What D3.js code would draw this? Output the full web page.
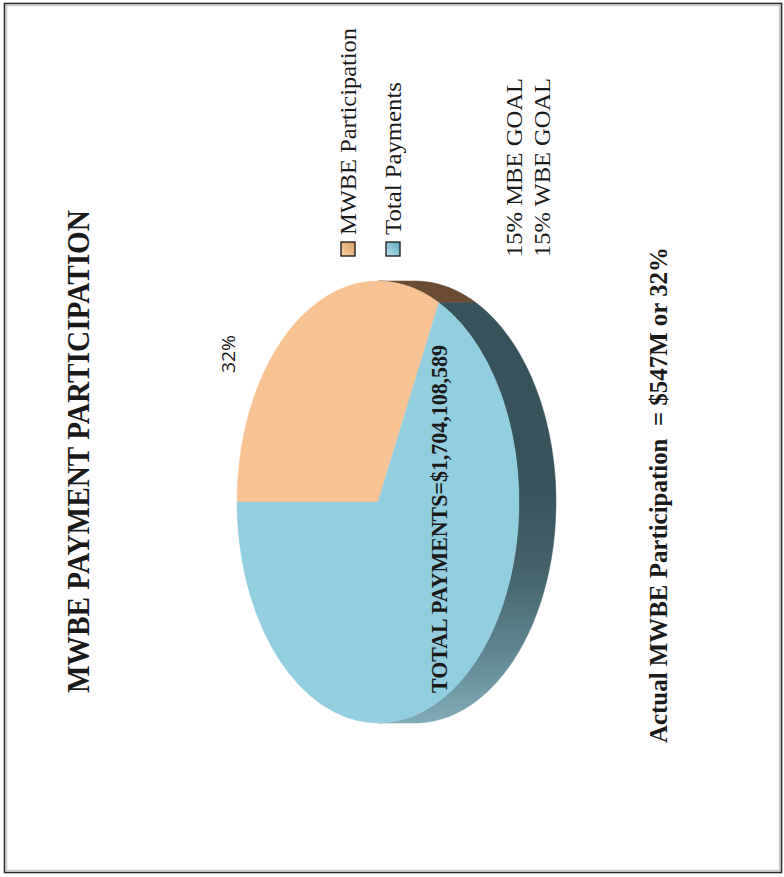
<!DOCTYPE html>
<html>
<head>
<meta charset="utf-8">
<script src="https://cdn.jsdelivr.net/npm/d3@7"></script>
<style>
  html, body { margin: 0; padding: 0; background: #fff; }
  svg { display: block; }
  text { white-space: pre; }
</style>
</head>
<body>
<script>
// ---- data ----
const categories = ["MWBE Participation", "Total Payments"];
const values = [547, 1157];            // $M: MWBE share vs. remainder of $1,704M
const topColors = ["#f8c292", "#93cde0"];
const sideColors = ["#6b4b31", "url(#blueSide)"];
const title = "MWBE PAYMENT PARTICIPATION";
const sliceLabel = "32%";
const totalLabel = "TOTAL PAYMENTS=$1,704,108,589";
const goals = ["15% MBE GOAL", "15% WBE GOAL"];
const footer = "Actual MWBE Participation  = $547M or 32%";

const W = 784, H = 877;
const svg = d3.select("body").append("svg").attr("width", W).attr("height", H);

const defs = svg.append("defs");
// gradient coordinates are in the side group's local space (origin = pie centre)
const grad = defs.append("linearGradient").attr("id", "blueSide")
  .attr("gradientUnits", "userSpaceOnUse")
  .attr("x1", 20).attr("y1", 0).attr("x2", -222).attr("y2", 0);
grad.append("stop").attr("offset", "0").attr("stop-color", "#36535b");
grad.append("stop").attr("offset", "0.35").attr("stop-color", "#436169");
grad.append("stop").attr("offset", "0.7").attr("stop-color", "#5e8793");
grad.append("stop").attr("offset", "1").attr("stop-color", "#80abb8");

const swGrad = [["swO", "#fbd3a8", "#d79a63"], ["swB", "#b8e2ee", "#5fa4ba"]];
swGrad.forEach(([id, a, b]) => {
  const g = defs.append("linearGradient").attr("id", id).attr("x1", 0).attr("y1", 0).attr("x2", 1).attr("y2", 1);
  g.append("stop").attr("offset", 0).attr("stop-color", a);
  g.append("stop").attr("offset", 1).attr("stop-color", b);
});

// frame
svg.append("rect").attr("x", 4.5).attr("y", 3.5).attr("width", 777).attr("height", 869)
  .attr("fill", "none").attr("stroke", "#2a2a2a").attr("stroke-width", 1.6);
svg.append("rect").attr("x", 6.5).attr("y", 5.5).attr("width", 773).attr("height", 865)
  .attr("fill", "none").attr("stroke", "#c8c8c8").attr("stroke-width", 1.5);

// landscape group (chart rotated 90° counter-clockwise)
const L = svg.append("g").attr("transform", `translate(0,${H}) rotate(-90)`);

// ---- pie ----
const cx = 375, cy = 378, rx = 221, ry = 141, depth = 37;
const pie = d3.pie().sort(null).startAngle(0).endAngle(2 * Math.PI);
const arcs = pie(values);
const ex = a => rx * Math.sin(a), ey = a => -ry * Math.cos(a);

// side walls (front half: angles between PI/2 and 3PI/2)
const sideG = L.append("g").attr("transform", `translate(${cx},${cy})`);
arcs.forEach((d, i) => {
  const a0 = Math.max(d.startAngle, Math.PI / 2), a1 = Math.min(d.endAngle, 3 * Math.PI / 2);
  if (a1 <= a0) return;
  const n = 80;
  const angs = d3.range(n + 1).map(k => a0 + (a1 - a0) * k / n);
  const pts = angs.map(a => [ex(a), ey(a)])
    .concat(angs.slice().reverse().map(a => [ex(a), ey(a) + depth]));
  sideG.append("path").attr("d", d3.line()(pts) + "Z")
    .attr("fill", sideColors[i]).attr("stroke", sideColors[i]).attr("stroke-width", 0.5);
});

// top faces
const topG = L.append("g").attr("transform", `translate(${cx},${cy}) scale(1,${ry / rx})`);
const arc = d3.arc().innerRadius(0).outerRadius(rx);
topG.selectAll("path.top").data(arcs).join("path")
  .attr("class", "top").attr("d", arc).attr("fill", (d, i) => topColors[i])
  .attr("stroke", (d, i) => topColors[i]).attr("stroke-width", 0.5);

// rim highlight on the blue face
{
  const d = arcs[1];
  const a0 = Math.max(d.startAngle + 0.9, Math.PI / 2), a1 = 3 * Math.PI / 2 - 0.15;
  const angs = d3.range(61).map(k => a0 + (a1 - a0) * k / 60);
  sideG.append("path").attr("d", d3.line()(angs.map(a => [ex(a) * 0.995, ey(a) * 0.99])))
    .attr("fill", "none").attr("stroke", "#d4f1f8").attr("stroke-width", 1.4).attr("opacity", 0.8);
}

// ---- texts ----
const serif = "'Liberation Serif', 'Times New Roman', serif";
function txt(s, u, v, size, weight, len, fam) {
  const t = L.append("text").attr("x", u).attr("y", v).text(s)
    .attr("font-family", fam || serif).attr("font-size", size)
    .attr("font-weight", weight || "normal").attr("fill", "#1a1a1a");
  if (len) t.attr("textLength", len).attr("lengthAdjust", "spacingAndGlyphs");
  return t;
}

txt(title, 184, 89, 31, "bold", 483);
txt(sliceLabel, 504, 235, 19, "normal", 38, "'Open Sans', 'Noto Sans', sans-serif");
txt(totalLabel, 184, 447, 23, "bold", 348);
txt(footer, 134, 667, 25, "bold", 496);

// legend
const legV = [341, 386];
categories.forEach((c, i) => {
  L.append("rect").attr("x", 621).attr("y", legV[i]).attr("width", 14).attr("height", 14)
    .attr("fill", `url(#${swGrad[i][0]})`).attr("stroke", "#222").attr("stroke-width", 1.4);
  txt(c, 642, legV[i] + 15, 24, "normal", i === 0 ? 207 : 153);
});

goals.forEach((g, i) => txt(g, 620, 522 + i * 28, 24, "normal", 179));
</script>
</body>
</html>
